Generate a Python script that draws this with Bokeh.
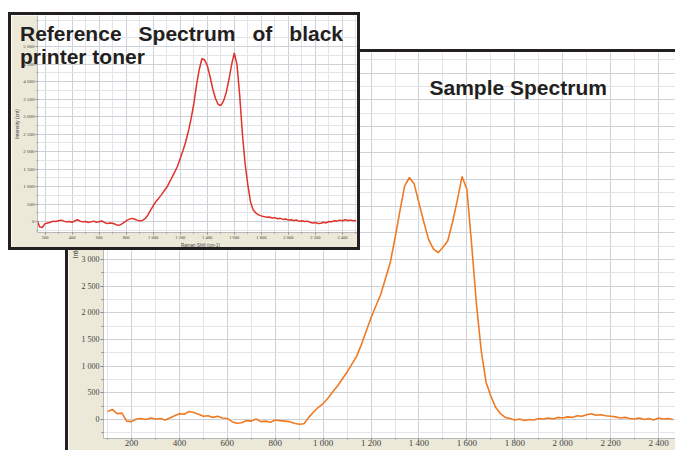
from bokeh.plotting import figure
from bokeh.models import FixedTicker, Label, Range1d, Div
from bokeh.embed import file_html
from bokeh.resources import INLINE

# ---------------- data ----------------
# Sample spectrum (orange), Raman shift 100..2460 cm-1 every 20
sample_shift = list(range(100, 2461, 20))
sample_intensity = [
    150, 190, 110, 120, -30, -40, 10, 20, 0, 30,
    10, 20, -10, 30, 70, 110, 100, 150, 130, 100,
    60, 70, 40, 60, 30, 20, -40, -70, -60, -20,
    -30, 10, -40, -30, -50, -10, -20, -30, -40, -70,
    -90, -80, 40, 140, 230, 300, 400, 520, 630, 760,
    890, 1040, 1190, 1410, 1660, 1910, 2130, 2340, 2640, 2940,
    3400, 3900, 4380, 4540, 4420, 4060, 3710, 3380, 3200, 3130,
    3230, 3350, 3700, 4110, 4560, 4320, 3280, 2160, 1290, 700,
    440, 230, 110, 40, 20, -10, 10, -20, 0, -10,
    20, 10, 30, 10, 40, 30, 50, 40, 70, 60,
    90, 110, 80, 90, 70, 60, 50, 30, 40, 20,
    10, 30, 0, 20, -10, 30, 10, 20, 0,
]

# Reference spectrum of black printer toner (red), 100..2500 cm-1 every 20
ref_shift = list(range(100, 2501, 20))
ref_intensity = [
    120, 230, 60, -150, -170, -60, -40, -20, 10, 0,
    20, 40, 10, -10, 0, -20, 20, 50, 10, -10,
    0, -30, -10, 10, -20, -10, 20, -30, -60, -40,
    -50, -80, -110, -90, -40, 20, 60, 90, 70, 40,
    20, 30, 80, 180, 320, 450, 570, 660, 760, 870,
    970, 1120, 1270, 1420, 1580, 1800, 2020, 2270, 2570, 2930,
    3350, 3880, 4330, 4650, 4620, 4460, 4150, 3800, 3520, 3350,
    3310, 3440, 3680, 4050, 4480, 4820, 4480, 3600, 2500, 1650,
    1050, 560, 330, 240, 190, 160, 140, 120, 130, 100,
    110, 80, 90, 60, 70, 40, 50, 30, 40, 10,
    20, 0, 10, -20, -40, -30, -60, -50, -20, -40,
    0, -10, 20, 10, 40, 20, 50, 30, 40, 20,
    30,
]

x_ticks = [200, 400, 600, 800, 1000, 1200, 1400, 1600, 1800, 2000, 2200, 2400]
x_tick_labels = ["200", "400", "600", "800", "1 000", "1 200", "1 400",
                 "1 600", "1 800", "2 000", "2 200", "2 400"]
x_minor = [100, 300, 500, 700, 900, 1100, 1300, 1500, 1700, 1900, 2100, 2300, 2500]

y_ticks = [0, 500, 1000, 1500, 2000, 2500, 3000, 3500, 4000, 4500, 5000, 5500, 6000, 6500]
y_tick_labels = ["0", "500", "1 000", "1 500", "2 000", "2 500", "3 000", "3 500",
                 "4 000", "4 500", "5 000", "5 500", "6 000", "6 500"]
y_minor = [-250, 250, 750, 1250, 1750, 2250, 2750, 3250, 3750, 4250, 4750, 5250, 5750, 6250, 6750]

ref_y_ticks = y_ticks[:11]
ref_y_labels = y_tick_labels[:11]

main_title = "Sample Spectrum"
ref_title = "Reference Spectrum of black printer toner"
x_title = "Raman Shift (cm-1)"

# ---------------- style ----------------
BEIGE = "#ECE9D8"
DARK = "#231f20"
GRID_MAJOR = "#cdd1d8"
GRID_MINOR = "#e3e5ea"
ORANGE = "#F07A22"
RED = "#E0322A"


def style_axes(p, lab_size, ttl_size, tick_out, standoff):
    for ax in (p.xaxis[0], p.yaxis[0]):
        ax.major_label_text_font = "Liberation Serif"
        ax.major_label_text_font_size = lab_size
        ax.major_label_text_color = "#444444"
        ax.axis_label_text_font = "Liberation Sans"
        ax.axis_label_text_font_size = ttl_size
        ax.axis_label_text_font_style = "normal"
        ax.axis_label_text_color = "#444444"
        ax.axis_line_color = "#b8b8b8"
        ax.major_tick_line_color = "#8a8a8a"
        ax.minor_tick_line_color = "#8a8a8a"
        ax.major_tick_out = tick_out
        ax.major_tick_in = 0
        ax.minor_tick_out = max(tick_out - 1, 1)
        ax.minor_tick_in = 0
        ax.major_label_standoff = standoff
        ax.axis_label_standoff = 0
    p.xgrid.grid_line_color = GRID_MAJOR
    p.ygrid.grid_line_color = GRID_MAJOR
    p.xgrid.minor_grid_line_color = GRID_MINOR
    p.ygrid.minor_grid_line_color = GRID_MINOR


# ---------------- main (sample) figure ----------------
# canvas 68..678 x 52..453 (after the 3px black left/top border); frame 103..678 x 52..438
MX0, MX1, MY0, MY1 = 83.1, 2483.4, -356.0, 6885.0
main = figure(width=610, height=401, x_range=Range1d(MX0, MX1), y_range=Range1d(MY0, MY1),
              output_backend="svg", toolbar_location=None,
              min_border_left=35, min_border_top=0, min_border_right=0, min_border_bottom=15,
              border_fill_color=BEIGE, background_fill_color="white", outline_line_color=None,
              styles={"border-left": "3px solid " + DARK, "border-top": "3px solid " + DARK},
              margin=(49, 0, 0, 65))
main.xaxis.ticker = FixedTicker(ticks=x_ticks, minor_ticks=x_minor)
main.yaxis.ticker = FixedTicker(ticks=y_ticks, minor_ticks=y_minor)
main.xaxis.major_label_overrides = dict(zip(x_ticks, x_tick_labels))
main.yaxis.major_label_overrides = dict(zip(y_ticks, y_tick_labels))
main.yaxis.axis_label = "Intensity"
style_axes(main, "8px", "7px", 3, 1)
main.xaxis.major_label_text_font_size = "9px"
main.xaxis.major_tick_out = 2
main.xaxis.minor_tick_out = 1
main.xaxis.major_label_standoff = -3
main.line(sample_shift, sample_intensity, line_color=ORANGE, line_width=1.6)


def mx(px):
    return MX0 + (px - 103) * (MX1 - MX0) / 575.0


def my(py):
    return MY1 - (py - 52) * (MY1 - MY0) / 386.0


main.add_layout(Label(x=mx(429), y=my(87), text=main_title, text_font="Liberation Sans",
                      text_font_style="bold", text_font_size="21px", text_color=DARK,
                      text_baseline="alphabetic", text_align="left"))

# ---------------- inset (reference) figure ----------------
# canvas 11..363 x 15..253 (inside 3px black border, clipped at 357/247); frame ~37.5..363 x 15..232
IX0, IX1, IY0, IY1 = 144.4, 2555.6, -314.0, 5886.0
inset = figure(width=352, height=238, x_range=Range1d(IX0, IX1), y_range=Range1d(IY0, IY1),
               output_backend="svg", toolbar_location=None,
               min_border_left=21, min_border_top=0, min_border_right=0, min_border_bottom=21,
               border_fill_color=BEIGE, background_fill_color="white", outline_line_color=None,
               styles={"border": "3px solid " + DARK, "position": "relative", "z-index": "2"},
               margin=(-438, 0, 0, 8))
inset.xaxis.ticker = FixedTicker(ticks=x_ticks, minor_ticks=x_minor)
inset.yaxis.ticker = FixedTicker(ticks=ref_y_ticks, minor_ticks=y_minor)
inset.xaxis.major_label_overrides = dict(zip(x_ticks, x_tick_labels))
inset.yaxis.major_label_overrides = dict(zip(ref_y_ticks, ref_y_labels))
inset.xaxis.axis_label = x_title
inset.yaxis.axis_label = "Intensity (cnt)"
style_axes(inset, "5px", "5px", 2, 1)
inset.xaxis.major_label_text_font_size = "4.5px"
inset.xaxis.axis_label_text_font_size = "4.5px"
inset.xaxis.major_label_standoff = 0
inset.line(ref_shift, ref_intensity, line_color=RED, line_width=1.5)

# ---------------- inset title (justified paragraph) ----------------
title_html = ('<div style="font-family: \'Liberation Sans\', Arial, sans-serif; font-weight: bold; '
              'font-size: 21px; line-height: 23px; text-align: justify; color: %s; '
              'width: 323px; margin: 0; padding: 0;">%s</div>' % (DARK, ref_title))
title_div = Div(text=title_html, width=323, height=48,
                styles={"position": "relative", "z-index": "3"},
                margin=(-228, 0, 0, 20))

open("out.html", "w").write(file_html([main, inset, title_div], INLINE))
